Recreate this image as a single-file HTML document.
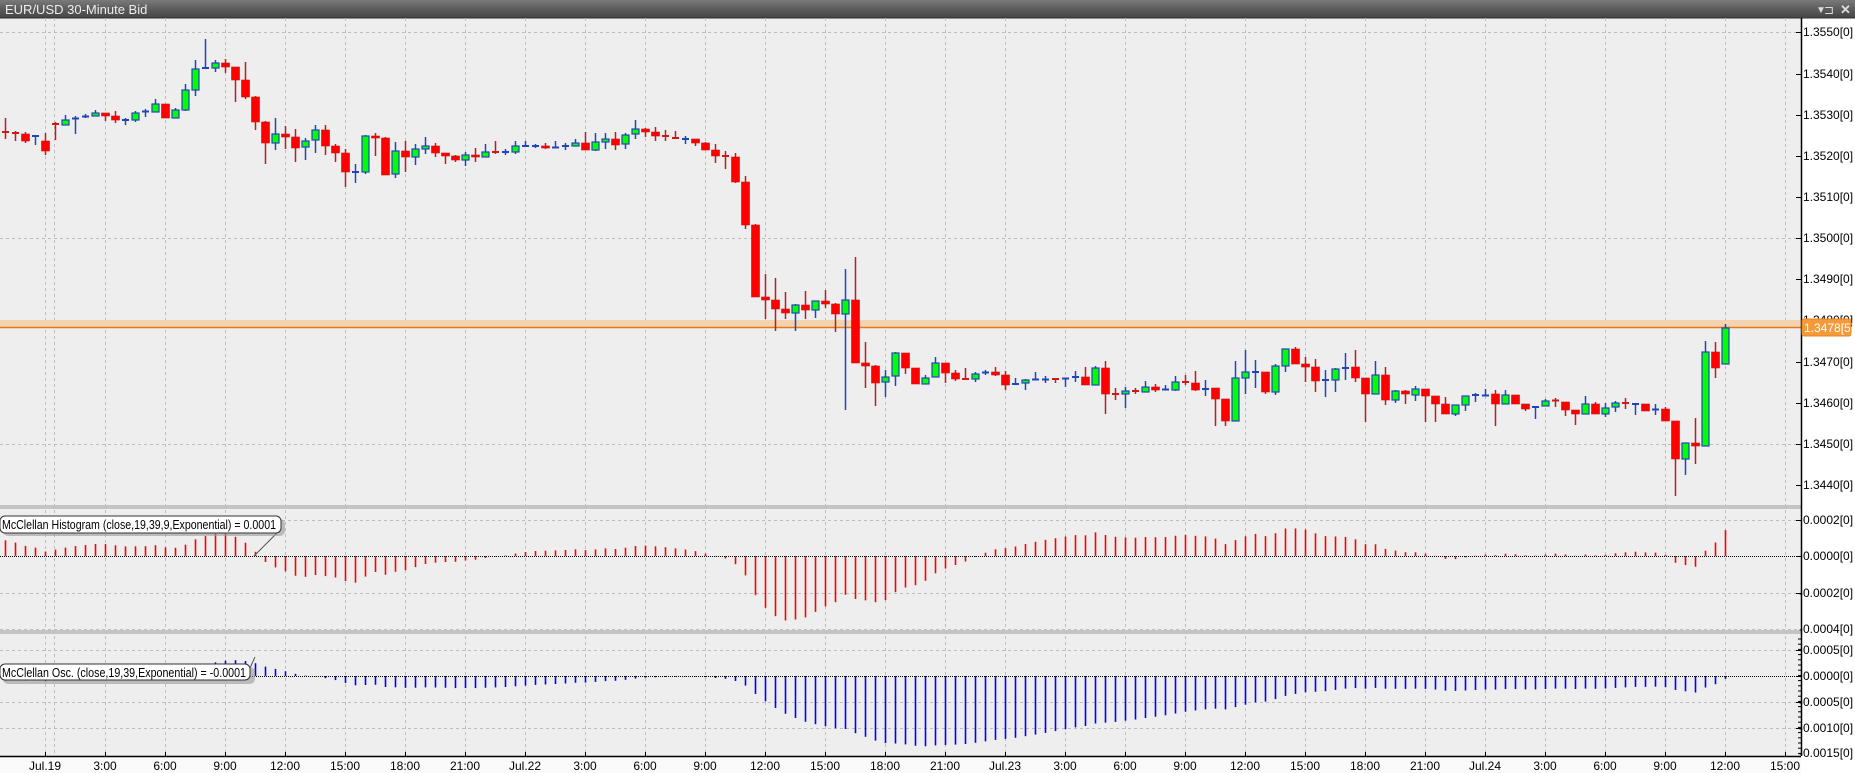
<!DOCTYPE html>
<html><head><meta charset="utf-8"><style>
html,body{margin:0;padding:0;background:#fff;}
svg{display:block;font-family:"Liberation Sans",Arial,sans-serif;}
</style></head><body>
<svg id="s" width="1855" height="773" xmlns="http://www.w3.org/2000/svg"></svg>
<script>
const D=[[132,132,118,139],[133,133,131,141],[134,141,132,143],[136.5,136,136,145],[141,151,133,155],[124,125,122,140],[125,120,115,125],[119,118.5,116,134],[117,116.5,114,118],[116,113,110,116],
[113,116,113,121],[116,120,111,123],[120.5,120,118,125],[120,113,111,122],[112,111.5,109,117],[112,104,99,112],[104,118,104,118],[118,110,108,118],[110,90,84,111],[90,69,60,96],
[68.5,68,39,68],[68,63,60,72],[63,67,59,73],[67,80,67,102],[80,97,62,99],[97,122,96,130],[122,143,121,164],[143,134,118,150],[134,137,126,149],[137,148,129,162],
[147,141,138,160],[140,130,125,153],[130,146,125,155],[146,153,144,162],[153,172,149,187],[172.5,172,164,183],[172,136,135,174],[136,138,133,156],[138,175,137,175],[174,151,142,178],
[151,157,141,172],[157,149,144,165],[149,146,137,154],[146,153,143,157],[153,156,153,164],[156,160,155,162],[160,155,152,166],[155,157,148,162],[157,152,144,157],[152,152.5,141,154],
[152.5,152,149,155],[152,146,141,154],[146.5,146,141,147],[146.5,146,144,148],[146,148,143,149],[148,147.5,141,148],[146.5,146,143,150],[146,143,139,146],[143,150,132,150],[150,142,133,151],
[142,139,133,149],[139,145,132,150],[144,135,133,149],[134,129,120,139],[129,132,128,137],[132,136,127,141],[136,137,130,141],[138,138.5,131,138.5],[139.5,139,136,144],[139,143,139,146],
[143,150,142,150],[150,156,144,163],[156,157,151,169],[157,182,153,183],[182,225,176,229],[225,297,224,297],[297,300,274,319],[300,309,278,331],[309,313,292,319],[313,305,304,331],
[305,310,291,319],[310,301,301,318],[301,304,290,308],[304,314,303,332],[314,300,269,410],[300,363,257,363],[363,366,342,388],[366,383,365,406],[382,377,370,397],[376,353,352,386],
[353,368,353,374],[368,384,368,384],[384,378,375,384],[377,363,357,377],[363,373,363,383],[373,379,370,381],[379,379.5,368,379.5],[379,374,372,382],[373,372.5,370,375],[372,375,367,376],
[375,385,371,390],[384.5,384,378,385],[383,380,379,390],[380,379.5,372,380],[380,379.5,376,383],[379,379.5,378,383],[379,378.5,378,387],[378,377,371,382],[377,385,367,385],[385,368,366,385],
[368,394,361,414],[394,394.5,388,400],[394,391,387,408],[391,391.5,388,394],[392,387,381,392],[387,390,384,392],[390,389.5,385,390],[390,382,376,391],[382,382.5,375,385],[383,390,371,391],
[389.5,389,380,396],[388,399,388,426],[399,421,399,426],[421,378,361,421],[378,372,350,394],[372.5,372,360,388],[372,392,372,394],[392,366,364,395],[366,349,349,372],[349,364,347,364],
[364,367,357,382],[367,381,359,392],[380.5,380,370,397],[380,369,368,392],[368.5,368,353,380],[367,378,350,382],[378,394,378,422],[394,375,361,394],[375,400,367,405],[400,391,390,403],
[391,394,390,404],[395,389,386,401],[389,396,389,422],[396,404,396,422],[404,414,397,414],[414,405,405,416],[405,396,396,411],[395.5,395,393,402],[396,395.5,389,396],[394,404,390,426],
[404,395,390,404],[395,404,395,404],[404,409,404,411],[408,407,406,419],[406,401,399,406],[400.5,401,398,407],[402,410,402,416],[410,414,410,425],[414,404,396,414],[404,414,402,414],
[414,408,403,417],[407,403,401,412],[403,403.5,398,409],[404.5,404,403,415],[404,411,404,411],[410,409.5,404,415],[409,421,407,421],[421,459,421,496],[459,443,443,475],[443,446,418,464],
[446,352,341,446],[352,368,342,378],[364,328,324,364]];
let h='';
const W=1801;
h+=`<rect x="0" y="0" width="1855" height="773" fill="#ffffff"/>`;
h+=`<rect x="0" y="18" width="${W}" height="738" fill="#eeeeee"/>`;
h+=`<defs><linearGradient id="tg" x1="0" y1="0" x2="0" y2="1"><stop offset="0" stop-color="#7a7a7a"/><stop offset="0.5" stop-color="#5c5c5c"/><stop offset="1" stop-color="#444"/></linearGradient><clipPath id="cp"><rect x="0" y="18" width="${W}" height="740"/></clipPath></defs>`;
h+=`<rect x="0" y="0" width="1855" height="18" fill="url(#tg)"/><line x1="0" y1="18" x2="1855" y2="18" stroke="#333"/>`;
h+=`<text x="5" y="14" font-size="13" fill="#eeeeee">EUR/USD 30-Minute Bid</text>`;
h+=`<text x="1816" y="13" font-size="10" fill="#ddd">▼</text><text x="1824" y="14" font-size="12" fill="#ddd">⊐</text><text x="1840" y="14" font-size="13" font-weight="bold" fill="#ddd">✕</text>`;
let g='<g clip-path="url(#cp)">';
const vx=[54];for(let k=0;k<30;k++)vx.push(45+60*k);
for(const x of vx){g+=`<line x1="${x}.5" y1="18" x2="${x}.5" y2="756" stroke="#bdbdbd" stroke-dasharray="3,3"/>`;}
for(const y of [32,238,444,520,593,629,650,702,728]){g+=`<line x1="0" y1="${y}.5" x2="${W}" y2="${y}.5" stroke="#bdbdbd" stroke-dasharray="3,3"/>`;}
g+=`<rect x="0" y="320" width="${W}" height="7" fill="#f5d3b0"/><line x1="0" y1="327.5" x2="${W}" y2="327.5" stroke="#e07b20" stroke-width="1.5"/>`;
D.forEach((d,k)=>{const x=5+10*k;let [o,c,hi,lo]=d;const up=c<o;
 const wc=up?'#2244bb':'#b82020';
 g+=`<line x1="${x}.5" y1="${hi}" x2="${x}.5" y2="${lo}" stroke="${wc}" stroke-width="1.5"/>`;
 const t=Math.min(o,c),b=Math.max(o,c);
 if(b-t<2){g+=`<rect x="${x-3}" y="${t-1}" width="7" height="${Math.max(2,b-t+1)}" fill="${up?'#2244bb':'#d01818'}"/>`;}
 else{ if(up)g+=`<rect x="${x-3}" y="${t}" width="7" height="${b-t}" fill="#00ff00" stroke="#2244bb" stroke-width="1.2"/>`;
 else g+=`<rect x="${x-3.5}" y="${t}" width="8" height="${b-t}" fill="#ff0000" stroke="#cc1010" stroke-width="0.6"/>`;}
});
g+=`<rect x="0" y="505" width="1855" height="4" fill="#c4c4c4"/><rect x="0" y="630" width="1855" height="4" fill="#c4c4c4"/>`;
const P=y=>1.3550-(y-32)/41200;
const a19=2/20,a39=2/40,a9=2/10;
let c0=P(D[0][1]);let e19=c0-0.00005,e39=c0+0.00005,sig=-0.0002;
D.forEach((d,k)=>{const c=P(d[1]);e19+=a19*(c-e19);e39+=a39*(c-e39);const osc=e19-e39;sig+=a9*(osc-sig);const hs=osc-sig;
 const x=5+10*k;
 const hy=556-hs*182500; g+=`<line x1="${x}.5" y1="556" x2="${x}.5" y2="${hy.toFixed(1)}" stroke="#ff0000" stroke-width="1.6"/>`;
 const oy=676-osc*52000; g+=`<line x1="${x}.5" y1="676" x2="${x}.5" y2="${oy.toFixed(1)}" stroke="#0000ff" stroke-width="1.6"/>`;
});
g+=`<line x1="0" y1="556.5" x2="${W}" y2="556.5" stroke="#000" stroke-dasharray="1,1"/><line x1="0" y1="676.5" x2="${W}" y2="676.5" stroke="#000" stroke-dasharray="1,1"/>`;
g+=`<line x1="280" y1="530" x2="254" y2="556" stroke="#555"/>`;
g+=`<rect x="3" y="519" width="282" height="17" rx="5" fill="#999" opacity="0.6"/><rect x="0" y="516" width="281" height="17" rx="5" fill="#fff" stroke="#333"/>`;
g+=`<text x="2" y="529" font-size="12.5" fill="#000" textLength="274" lengthAdjust="spacingAndGlyphs">McClellan Histogram (close,19,39,9,Exponential) = 0.0001</text>`;
g+=`<line x1="255" y1="657" x2="250" y2="668" stroke="#555"/>`;
g+=`<rect x="3" y="667" width="252" height="17" rx="5" fill="#999" opacity="0.6"/><rect x="0" y="664" width="250" height="16" rx="5" fill="#fff" stroke="#333"/>`;
g+=`<text x="2" y="677" font-size="12.5" fill="#000" textLength="244" lengthAdjust="spacingAndGlyphs">McClellan Osc. (close,19,39,Exponential) = -0.0001</text>`;
g+='</g>';h+=g;
h+=`<line x1="${W}.5" y1="18" x2="${W}.5" y2="756" stroke="#000" stroke-width="1.5"/>`;
const lab=(y,t)=>`<line x1="1796" y1="${y}.5" x2="1801" y2="${y}.5" stroke="#000"/><text x="${t[0]=='-'?1799:1803}" y="${y+4}" font-size="12" fill="#000">${t}</text>`;
[[32,'1.3550[0]'],[74,'1.3540[0]'],[115,'1.3530[0]'],[156,'1.3520[0]'],[197,'1.3510[0]'],[238,'1.3500[0]'],[279,'1.3490[0]'],[362,'1.3470[0]'],[403,'1.3460[0]'],[444,'1.3450[0]'],[485,'1.3440[0]'],
[520,'0.0002[0]'],[556,'0.0000[0]'],[593,'-0.0002[0]'],[650,'0.0005[0]'],[676,'0.0000[0]'],[702,'-0.0005[0]'],[728,'-0.0010[0]']].forEach(a=>h+=lab(a[0],a[1]));
h+=`<text x="1803" y="324" font-size="12" fill="#000">1.3480[0]</text>`;
h+=`<rect x="1802" y="319" width="49" height="17" rx="2" fill="#f59a3a" stroke="#e88420"/><text x="1804" y="332" font-size="12" fill="#fff">1.3478[5]</text>`;
h+=`<text x="1799" y="633" font-size="12" fill="#000">-0.0004[0]</text><text x="1799" y="757" font-size="12" fill="#000">-0.0015[0]</text>`;
for(let y=639;y<756;y+=5.2)h+=`<line x1="1798" y1="${y.toFixed(1)}" x2="1801" y2="${y.toFixed(1)}" stroke="#000"/>`;
h+=`<rect x="0" y="757" width="${W}" height="16" fill="#fafafa"/><line x1="0" y1="756.5" x2="${W}" y2="756.5" stroke="#000" stroke-width="1.5"/>`;
const tl=['Jul.19','3:00','6:00','9:00','12:00','15:00','18:00','21:00','Jul.22','3:00','6:00','9:00','12:00','15:00','18:00','21:00','Jul.23','3:00','6:00','9:00','12:00','15:00','18:00','21:00','Jul.24','3:00','6:00','9:00','12:00','15:00'];
tl.forEach((t,k)=>{const x=45+60*k;h+=`<line x1="${x}.5" y1="752" x2="${x}.5" y2="756" stroke="#000"/><text x="${x}" y="770" font-size="12" text-anchor="middle" fill="#000">${t}</text>`;});
document.getElementById('s').innerHTML=h;
</script>
</body></html>
